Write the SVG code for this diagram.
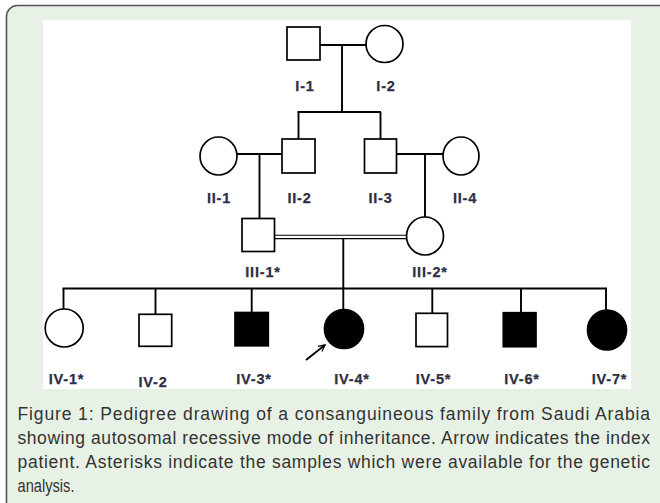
<svg xmlns="http://www.w3.org/2000/svg" width="660" height="503" viewBox="0 0 660 503">
<style>
.sym{fill:#fff;stroke:#000;stroke-width:1.7}
.aff{fill:#000;stroke:#000;stroke-width:1.7}
.ln{fill:none;stroke:#000;stroke-width:1.9}
.thin{fill:none;stroke:#000;stroke-width:1.1}
.lbl{font-family:"Liberation Sans",Arial,sans-serif;font-weight:bold;font-size:14.5px;fill:#2d2f45;stroke:#2d2f45;stroke-width:0.25;letter-spacing:0.8px;text-anchor:middle}
.cap{font-family:"Liberation Sans",Arial,sans-serif;font-size:17.5px;fill:#333}
</style>
<defs>
<marker id="ah" viewBox="0 0 10 10" refX="9" refY="5" markerWidth="8" markerHeight="8" orient="auto" markerUnits="userSpaceOnUse">
<path d="M1,1 L9,5 L1,9" fill="none" stroke="#000" stroke-width="1.6"/>
</marker>
</defs>
<rect x="6.5" y="5.5" width="680" height="520" rx="11" fill="#e7f1e5" stroke="#555" stroke-width="1.6"/>
<rect x="43" y="20" width="588" height="369" fill="#fff"/>
<g id="connectors">
<line class="ln" x1="320" y1="45" x2="366" y2="45"/>
<line class="ln" x1="342" y1="45" x2="342" y2="112"/>
<line class="ln" x1="297.5" y1="112" x2="381" y2="112"/>
<line class="ln" x1="298.5" y1="112" x2="298.5" y2="139"/>
<line class="ln" x1="380.5" y1="112" x2="380.5" y2="139"/>
<line class="ln" x1="237" y1="154" x2="282" y2="154"/>
<line class="ln" x1="259.5" y1="154" x2="259.5" y2="218.5"/>
<line class="ln" x1="396.5" y1="154" x2="443" y2="154"/>
<line class="ln" x1="425" y1="154" x2="425" y2="217"/>
<line class="thin" x1="274.5" y1="235.2" x2="406.5" y2="235.2"/>
<line class="thin" x1="274.5" y1="238.6" x2="406.5" y2="238.6"/>
<line class="ln" x1="343.3" y1="238.6" x2="343.3" y2="288.5"/>
<line class="ln" x1="62.5" y1="288.5" x2="607" y2="288.5"/>
<line class="ln" x1="63.5" y1="288.5" x2="63.5" y2="309"/>
<line class="ln" x1="155.5" y1="288.5" x2="155.5" y2="314.3"/>
<line class="ln" x1="251.7" y1="288.5" x2="251.7" y2="312.5"/>
<line class="ln" x1="343.3" y1="288.5" x2="343.3" y2="309.5"/>
<line class="ln" x1="432.3" y1="288.5" x2="432.3" y2="313.3"/>
<line class="ln" x1="521" y1="288.5" x2="521" y2="312.7"/>
<line class="ln" x1="606" y1="288.5" x2="606" y2="310"/>
<line class="ln" x1="306" y1="360" x2="325" y2="345" marker-end="url(#ah)"/>
</g>
<g id="I-1"><rect class="sym" x="287" y="27" width="33" height="33"/><text class="lbl" x="305" y="90.5">I-1</text></g>
<g id="I-2"><ellipse class="sym" cx="384.5" cy="44" rx="18.5" ry="18.5"/><text class="lbl" x="386" y="90.5">I-2</text></g>
<g id="II-1"><ellipse class="sym" cx="218.5" cy="156" rx="18.5" ry="19"/><text class="lbl" x="219" y="202.5">II-1</text></g>
<g id="II-2"><rect class="sym" x="282" y="139" width="33" height="34"/><text class="lbl" x="299.5" y="202.5">II-2</text></g>
<g id="II-3"><rect class="sym" x="364.5" y="139" width="32" height="34"/><text class="lbl" x="380.5" y="202.5">II-3</text></g>
<g id="II-4"><ellipse class="sym" cx="461" cy="156" rx="18" ry="19"/><text class="lbl" x="465" y="202.5">II-4</text></g>
<g id="III-1"><rect class="sym" x="242" y="218.5" width="32.5" height="33"/><text class="lbl" x="263" y="276.5">III-1*</text></g>
<g id="III-2"><ellipse class="sym" cx="425" cy="236" rx="18.5" ry="19"/><text class="lbl" x="430" y="276.5">III-2*</text></g>
<g id="IV-1"><ellipse class="sym" cx="64.2" cy="328" rx="19" ry="19"/><text class="lbl" x="66.5" y="384">IV-1*</text></g>
<g id="IV-2"><rect class="sym" x="139" y="314.3" width="32.7" height="32"/><text class="lbl" x="153" y="387">IV-2</text></g>
<g id="IV-3"><rect class="aff" x="235" y="312.5" width="33.3" height="33.3"/><text class="lbl" x="254" y="384">IV-3*</text></g>
<g id="IV-4"><ellipse class="aff" cx="344" cy="329" rx="19.5" ry="19.5"/><text class="lbl" x="352" y="384">IV-4*</text></g>
<g id="IV-5"><rect class="sym" x="416" y="313.3" width="31.5" height="33.3"/><text class="lbl" x="433.5" y="384">IV-5*</text></g>
<g id="IV-6"><rect class="aff" x="503.3" y="312.7" width="32.7" height="34"/><text class="lbl" x="522" y="384">IV-6*</text></g>
<g id="IV-7"><ellipse class="aff" cx="607" cy="330" rx="19.5" ry="20"/><text class="lbl" x="609.5" y="384">IV-7*</text></g>
<g id="caption">
<text class="cap" x="17.5" y="420" textLength="632.5" lengthAdjust="spacing">Figure 1: Pedigree drawing of a consanguineous family from Saudi Arabia</text>
<text class="cap" x="17.5" y="444" textLength="632.5" lengthAdjust="spacing">showing autosomal recessive mode of inheritance. Arrow indicates the index</text>
<text class="cap" x="17.5" y="467.7" textLength="632.5" lengthAdjust="spacing">patient. Asterisks indicate the samples which were available for the genetic</text>
<text class="cap" x="17.5" y="491.7" textLength="57" lengthAdjust="spacingAndGlyphs">analysis.</text>
</g>
</svg>
